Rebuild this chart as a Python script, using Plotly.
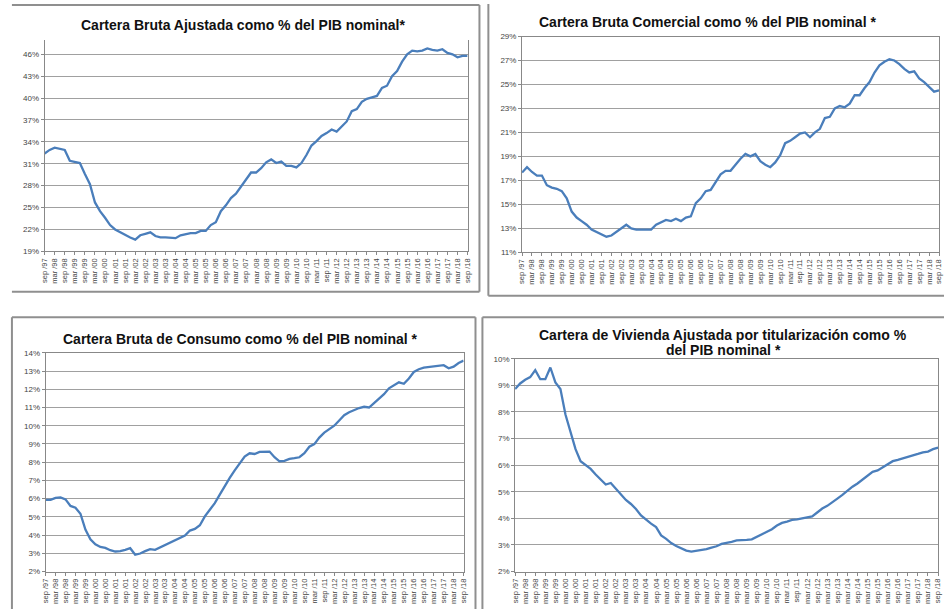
import plotly.graph_objects as go

# quarterly periods sep/97 .. sep/18
MONTHS = ["sep", "dic", "mar", "jun"]
periods = [f"{MONTHS[i % 4]} /{(97 + (i + 2) // 4) % 100:02d}" for i in range(85)]
tick_labels = periods[::2]

ajustada = [32.4, 32.9, 33.2, 33.0, 32.9, 31.4, 31.2, 31.1, 29.6, 28.2,
            25.7, 24.5, 23.6, 22.6, 22.0, 21.6, 21.3, 20.9, 20.6, 21.2,
            21.4, 21.6, 21.1, 20.9, 20.9, 20.8, 20.8, 21.2, 21.4, 21.5,
            21.5, 21.8, 21.8, 22.6, 23.0, 24.5, 25.3, 26.3, 26.9, 27.9,
            28.9, 29.8, 29.8, 30.4, 31.2, 31.6, 31.1, 31.3, 30.7, 30.7,
            30.5, 31.1, 32.2, 33.5, 34.1, 34.8, 35.2, 35.7, 35.4, 36.1,
            36.8, 38.2, 38.5, 39.5, 39.9, 40.1, 40.3, 41.4, 41.7, 43.0,
            43.7, 45.0, 46.0, 46.5, 46.4, 46.5, 46.8, 46.6, 46.5, 46.7,
            46.2, 46.0, 45.6, 45.8, 45.8]

comercial = [17.65, 18.1, 17.7, 17.4, 17.4, 16.6, 16.4, 16.3, 16.1, 15.5,
             14.4, 13.9, 13.6, 13.3, 12.9, 12.7, 12.5, 12.3, 12.4, 12.7,
             13.0, 13.3, 13.0, 12.9, 12.9, 12.9, 12.9, 13.3, 13.5, 13.7,
             13.6, 13.8, 13.6, 13.9, 14.0, 15.1, 15.5, 16.1, 16.2, 16.8,
             17.5, 17.8, 17.8, 18.3, 18.8, 19.2, 19.0, 19.2, 18.6, 18.3,
             18.1, 18.5, 19.1, 20.1, 20.3, 20.6, 20.9, 21.0, 20.6, 21.0,
             21.3, 22.2, 22.3, 23.0, 23.2, 23.1, 23.4, 24.1, 24.1, 24.7,
             25.2, 26.0, 26.6, 26.9, 27.1, 27.0, 26.7, 26.3, 26.0, 26.1,
             25.5, 25.2, 24.8, 24.4, 24.5]

consumo = [5.93, 5.93, 6.04, 6.07, 5.96, 5.6, 5.5, 5.17, 4.3, 3.77,
           3.5, 3.35, 3.3, 3.17, 3.1, 3.12, 3.19, 3.28, 2.92, 2.99,
           3.12, 3.23, 3.19, 3.32, 3.44, 3.57, 3.71, 3.86, 3.98, 4.25,
           4.34, 4.54, 5.03, 5.39, 5.75, 6.22, 6.72, 7.14, 7.55, 7.96,
           8.31, 8.49, 8.45, 8.56, 8.58, 8.58, 8.27, 8.05, 8.07, 8.18,
           8.22, 8.27, 8.49, 8.85, 8.99, 9.35, 9.62, 9.8, 10.0, 10.29,
           10.58, 10.74, 10.86, 10.97, 11.04, 11.0, 11.24, 11.48, 11.73, 12.05,
           12.23, 12.38, 12.3, 12.59, 12.95, 13.1, 13.19, 13.22, 13.26, 13.28,
           13.32, 13.15, 13.24, 13.44, 13.57]

vivienda = [8.86, 9.07, 9.21, 9.31, 9.57, 9.23, 9.23, 9.67, 9.11, 8.86,
            7.9, 7.28, 6.6, 6.15, 5.99, 5.86, 5.65, 5.46, 5.27, 5.33,
            5.12, 4.88, 4.69, 4.54, 4.35, 4.11, 3.95, 3.8, 3.67, 3.36,
            3.23, 3.07, 2.96, 2.86, 2.79, 2.75, 2.78, 2.8, 2.84, 2.9,
            2.95, 3.04, 3.07, 3.12, 3.17, 3.17, 3.19, 3.21, 3.31, 3.42,
            3.51, 3.59, 3.73, 3.83, 3.88, 3.94, 3.96, 3.99, 4.02, 4.07,
            4.22, 4.37, 4.47, 4.59, 4.74, 4.88, 5.04, 5.19, 5.31, 5.46,
            5.59, 5.75, 5.8, 5.91, 6.05, 6.15, 6.2, 6.25, 6.32, 6.36,
            6.42, 6.48, 6.51, 6.6, 6.66]

W, H = 948, 614
LINE = "#4A7EBB"
FONT = "Liberation Sans, Arial, sans-serif"


def px_x(x):
    return x / W


def px_y(y):
    return 1 - y / H


# (series, title lines, title center x, title y per line, plot box in px, y range, tick0, dtick, mirror x)
panels = [
    (ajustada, ["Cartera Bruta Ajustada como % del PIB nominal*"], 240, [21],
     (40, 467, 37, 251), [19, 47.9], 19, 3, False),
    (comercial, ["Cartera Bruta Comercial como % del PIB nominal *"], 709, [18],
     (522, 943, 33, 252), [11, 29], 11, 2, True),
    (consumo, ["Cartera Bruta de Consumo como % del PIB nominal *"], 238, [340],
     (41, 463, 354, 576), [2, 14], 2, 1, True),
    (vivienda, ["Cartera de Vivienda Ajustada por titularización como %", "del PIB nominal *"], 725, [336, 351],
     (515, 942, 360, 576), [2, 10], 2, 1, True),
]

fig = go.Figure()
annotations = []
for i, (vals, titles, tx, tys, box, yr, t0, dt, mx) in enumerate(panels):
    n = "" if i == 0 else str(i + 1)
    fig.add_trace(go.Scatter(x=periods, y=vals, mode="lines",
                             line=dict(color=LINE, width=2.3),
                             xaxis="x" + n, yaxis="y" + n, showlegend=False))
    x0, x1, y0, y1 = box
    fig.update_layout(**{
        "xaxis" + n: dict(domain=[px_x(x0), px_x(x1)], anchor="y" + n, type="category",
                          range=[0, len(periods) - 1], tickmode="array",
                          tickvals=tick_labels, ticktext=tick_labels, tickangle=-90,
                          ticks="outside", ticklen=3, tickcolor="#888",
                          showgrid=False, showline=True, linecolor="#888", linewidth=1,
                          mirror=mx, tickfont=dict(size=7.5, color="#444", family=FONT)),
        "yaxis" + n: dict(domain=[px_y(y1), px_y(y0)], anchor="x" + n,
                          range=yr, tick0=t0, dtick=dt, ticksuffix="%",
                          showgrid=True, gridcolor="#a0a0a0", gridwidth=1,
                          showline=True, linecolor="#888", linewidth=1, mirror=True,
                          ticks="outside", ticklen=3, tickcolor="#888", zeroline=False,
                          tickfont=dict(size=8, color="#444", family=FONT)),
    })
    for t, ty in zip(titles, tys):
        annotations.append(dict(text="<b>" + t + "</b>", x=px_x(tx), y=px_y(ty),
                                xref="paper", yref="paper", showarrow=False,
                                xanchor="center", yanchor="middle",
                                font=dict(size=14, color="#111", family=FONT)))

BORDER = dict(color="#8f8f8f", width=2)
segs = [
    # top-left chart box (left edge cropped)
    (7, 1, 479, 1), (7, 292, 479, 292), (479, 1, 479, 292),
    # top-right chart box
    (488, 0, 488, 296), (488, 296, 948, 296),
    # bottom-left chart box
    (7, 318, 475, 318), (7, 318, 7, 614), (475, 318, 475, 614),
    # bottom-right chart box
    (482, 318, 948, 318), (482, 318, 482, 614),
]
shapes = [dict(type="line", xref="paper", yref="paper",
               x0=px_x(a), y0=px_y(b), x1=px_x(c), y1=px_y(d), line=BORDER)
          for a, b, c, d in segs]

fig.update_layout(width=W, height=H, margin=dict(l=0, r=0, t=0, b=0),
                  paper_bgcolor="white", plot_bgcolor="white",
                  annotations=annotations, shapes=shapes,
                  font=dict(family=FONT))
fig.write_html("out.html", config={"displayModeBar": False},
               post_script="document.body.style.margin='0';document.body.style.padding='0';")
